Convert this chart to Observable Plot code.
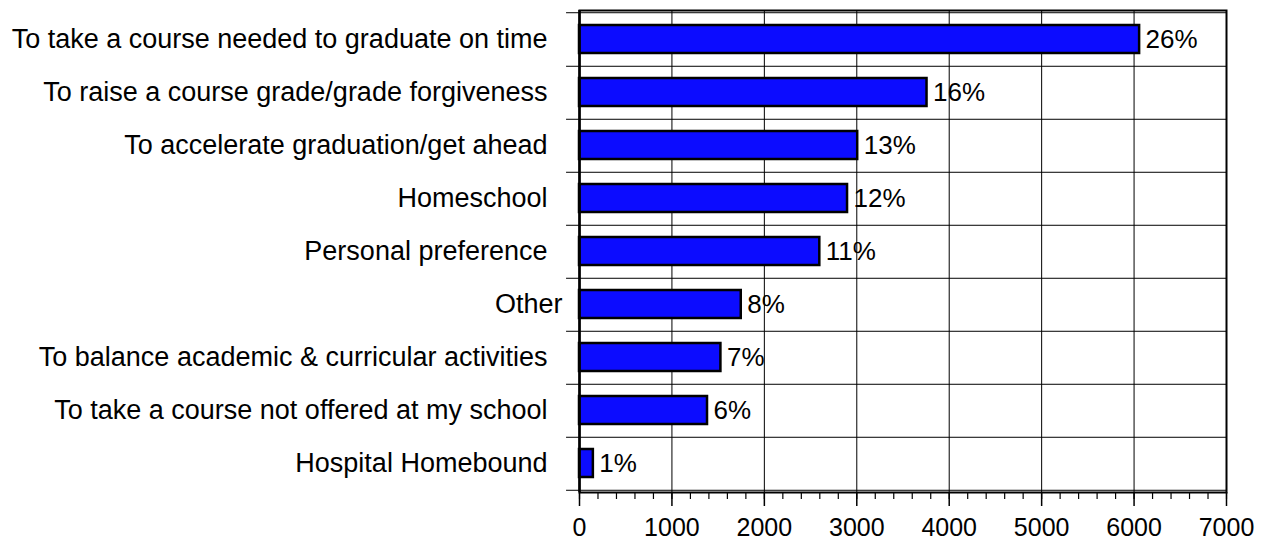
<!DOCTYPE html>
<html>
<head>
<meta charset="utf-8">
<script src="https://cdn.jsdelivr.net/npm/d3@7"></script>
<script src="https://cdn.jsdelivr.net/npm/@observablehq/plot@0.6"></script>
<style>
  html, body { margin: 0; padding: 0; background: white; }
  svg text { white-space: pre; }
</style>
</head>
<body>
<div id="chart"></div>
<script>
const categories = [
  "To take a course needed to graduate on time  ",
  "To raise a course grade/grade forgiveness  ",
  "To accelerate graduation/get ahead  ",
  "Homeschool  ",
  "Personal preference  ",
  "Other",
  "To balance academic & curricular activities  ",
  "To take a course not offered at my school  ",
  "Hospital Homebound  "
];
const counts = [6060, 3760, 3010, 2900, 2600, 1750, 1530, 1385, 150];
const percents = [26, 16, 13, 12, 11, 8, 7, 6, 1];
const xTicks = [0, 1000, 2000, 3000, 4000, 5000, 6000, 7000];
const minorTicks = d3.range(0, 7001, 200);

const data = categories.map((c, i) => ({category: c, count: counts[i], pct: percents[i]}));

const W = 1261, H = 542;
const mTop = 10, mBottom = 50, mLeft = 579, mRight = 35;
const step = (H - mTop - mBottom) / categories.length;

const chart = Plot.plot({
  width: W,
  height: H,
  marginLeft: mLeft,
  marginRight: mRight,
  marginTop: mTop,
  marginBottom: mBottom,
  style: {fontFamily: "'Liberation Sans', Arial, sans-serif", fontSize: "26px", color: "black", background: "white", overflow: "visible"},
  x: {domain: [0, 7000], label: null},
  y: {domain: categories, paddingInner: 0.48, paddingOuter: 0.24, label: null},
  marks: [
    Plot.ruleX(xTicks.slice(1, -1), {stroke: "black", strokeWidth: 1}),
    Plot.ruleY(categories, {y: d => d, x1: -140, x2: 7000, dy: step / 2, stroke: "black", strokeWidth: 1}),
    Plot.ruleY([categories[0]], {y: d => d, x1: -140, x2: 7000, dy: -step / 2, stroke: "black", strokeWidth: 1}),
    Plot.barX(data, {x: "count", y: "category", fill: "#0c0cff", stroke: "black", strokeWidth: 2.5}),
    Plot.text(data, {x: "count", y: "category", text: d => d.pct + "%", textAnchor: "start", dx: 6, fontSize: 26, fill: "black"}),
    Plot.frame({stroke: "black", strokeWidth: 2}),
    Plot.ruleX([0], {stroke: "black", strokeWidth: 2.5}),
    Plot.axisX(minorTicks, {tickSize: 7, tickFormat: () => "", label: null, strokeWidth: 1.2}),
    Plot.axisX(xTicks, {tickSize: 14, tickPadding: 12, fontSize: 25, tickFormat: d3.format("d"), label: null, strokeWidth: 1.5}),
    Plot.axisY({tickSize: 0, tickPadding: 17, fontSize: 27, label: null})
  ]
});
document.getElementById("chart").appendChild(chart);
</script>
</body>
</html>
